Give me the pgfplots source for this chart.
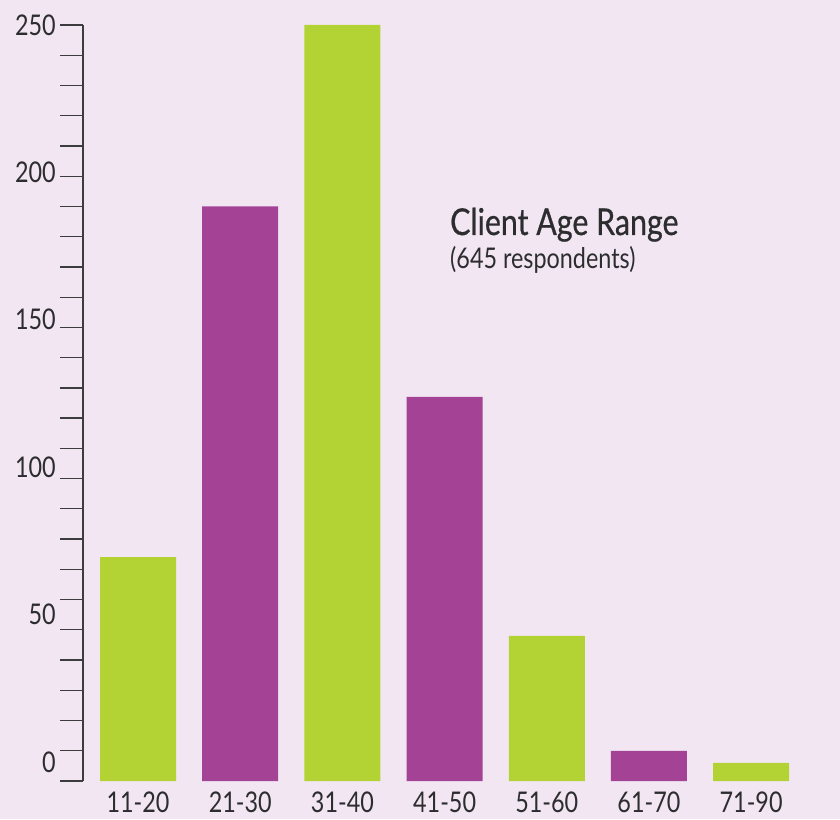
\documentclass[border=0pt]{standalone}
\usepackage{pgfplots}
\pgfplotsset{compat=1.18}
\usepackage{fontspec}
\setmainfont{Lato}[FakeStretch=0.82]
\newfontfamily\titlefont{Lato}[FakeStretch=0.82, FakeBold=0.6]
\definecolor{bg}{RGB}{241,230,242}
\definecolor{lime}{RGB}{179,211,52}
\definecolor{plum}{RGB}{164,67,150}
\definecolor{axisgray}{RGB}{60,60,62}
\definecolor{txt}{RGB}{45,45,48}
\begin{document}
\begin{tikzpicture}
\fill[bg] (0,0) rectangle (840pt,819pt);
\begin{axis}[
  at={(83pt,38pt)}, anchor=south west,
  scale only axis, width=757pt, height=756pt,
  xmin=-0.539, xmax=6.87, ymin=0, ymax=250,
  axis y line*=left, axis x line*=bottom,
  x axis line style={draw=none},
  y axis line style={line width=1.4pt, color=axisgray},
  ytick={6.28,55.03,103.77,152.52,201.26,250},
  yticklabels={0,50,100,150,200,250},
  minor ytick={0,10,...,250},
  tick align=outside, major tick length=23pt, minor tick length=23pt,
  major y tick style={draw=none},
  minor y tick style={line width=1.3pt, color=axisgray},
  xtick={0,...,6},
  xticklabels={11-20,21-30,31-40,41-50,51-60,61-70,71-90},
  xtick style={draw=none},
  /pgf/number format/assume math mode=true,
  tick label style={font=\fontsize{28.5}{30}\selectfont, text=txt, inner sep=0pt},
  yticklabel style={xshift=-4pt},
  xticklabel style={yshift=12pt},
  ybar, bar width=76pt, bar shift=0pt,
  clip=false,
]
\addplot[fill=lime, draw=none] coordinates {(0,74) (2,250) (4,48) (6,6)};
\addplot[fill=plum, draw=none] coordinates {(1,190) (3,127) (5,10)};
\end{axis}
\node[anchor=base west, text=txt, font=\titlefont\fontsize{37}{39}\selectfont, inner sep=0pt] at (450pt,584pt) {Client Age Range};
\node[anchor=base west, text=txt, font=\fontsize{28.5}{30}\selectfont, inner sep=0pt] at (450pt,550pt) {(645 respondents)};
\end{tikzpicture}
\end{document}
